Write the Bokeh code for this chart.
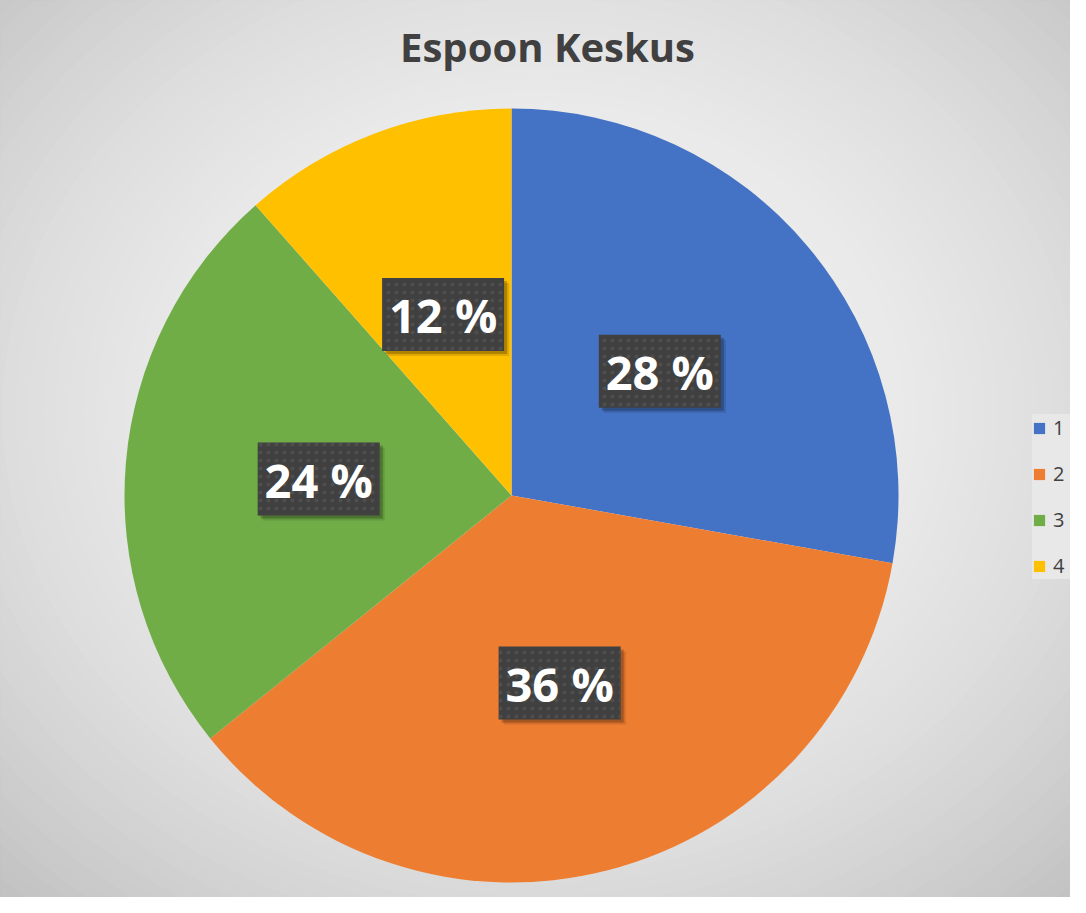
import math
from bokeh.plotting import figure
from bokeh.models import ColumnDataSource, Range1d, Legend, LegendItem
from bokeh.core.properties import value
from bokeh.embed import file_html
from bokeh.resources import INLINE

# ---- data ----
title_text = "Espoon Keskus"
categories = ["1", "2", "3", "4"]
shares = [27.8, 36.4, 24.3, 11.5]          # percent of total
labels = ["28 %", "36 %", "24 %", "12 %"]
colors = ["#4472C4", "#ED7D31", "#70AD47", "#FFC000"]

# ---- layout (px) ----
W, H = 1070, 897
CX, CY, R = 511, 402, 387

p = figure(width=W, height=H, output_backend="svg", toolbar_location=None,
           x_range=Range1d(0, W), y_range=Range1d(0, H),
           x_axis_type=None, y_axis_type=None, min_border=0)
p.grid.visible = False
p.outline_line_color = "#c4c4c4"
p.background_fill_color = "#c8c8c8"
p.border_fill_color = "white"

# radial background gradient built from concentric ellipses
gx, gy, grx, gry = 540, 485, 538, 460
steps = 64
ex, ey, ew, eh, ec = [], [], [], [], []
for k in range(steps, 0, -1):
    r = 1.6 * k / steps
    v = int(max(188, min(245, 245 - 24 * r * r)))
    ex.append(gx); ey.append(gy)
    ew.append(2 * grx * r); eh.append(2 * gry * r)
    ec.append("#%02x%02x%02x" % (v, v, v))
p.ellipse(x=ex, y=ey, width=ew, height=eh, fill_color=ec, line_color=None)

# pie wedges (clockwise from 12 o'clock)
total = sum(shares)
starts, ends, mids = [], [], []
acc = 0.0
for s in shares:
    a0 = math.pi / 2 - 2 * math.pi * acc / total
    acc += s
    a1 = math.pi / 2 - 2 * math.pi * acc / total
    starts.append(a0); ends.append(a1); mids.append((a0 + a1) / 2)

src = ColumnDataSource(dict(x=[CX] * 4, y=[CY] * 4, start=starts, end=ends,
                            color=colors, cat=categories))
wr = p.wedge(x="x", y="y", radius=R, start_angle="start", end_angle="end",
             direction="clock", fill_color="color", line_color=None, source=src)

# data labels in dark boxes
lr = 0.5 * R
lx = [CX + lr * math.cos(m) for m in mids]
ly = [CY + lr * math.sin(m) for m in mids]
bw, bh = 122, 73
p.rect(x=[x + 5 for x in lx], y=[y - 5 for y in ly], width=bw, height=bh,
       fill_color="black", fill_alpha=0.12, line_color=None)
p.rect(x=[x + 3 for x in lx], y=[y - 3 for y in ly], width=bw, height=bh,
       fill_color="black", fill_alpha=0.22, line_color=None)
p.rect(x=lx, y=ly, width=bw, height=bh, fill_color="#404040", line_color=None,
       hatch_pattern="dot", hatch_color="#4e4e4e", hatch_scale=8, hatch_weight=1)
p.text(x=lx, y=[y - 1 for y in ly], text=labels, text_color="white",
       text_font=value("Open Sans"), text_font_style="bold",
       text_font_size="47px", text_align="center", text_baseline="alphabetic")

# title
p.text(x=[547], y=[851], text=[title_text], text_color="#404040",
       text_font=value("Open Sans"), text_font_style="bold",
       text_font_size="40px", text_align="center", text_baseline="alphabetic")

# legend
items = [LegendItem(label=c, renderers=[wr], index=i) for i, c in enumerate(categories)]
legend = Legend(items=items, location=(1032, 318), orientation="vertical",
                glyph_width=14, glyph_height=14, label_standoff=7,
                label_height=14, spacing=19, padding=10, margin=0,
                label_text_font="Open Sans", label_text_font_size="20px",
                label_text_color="#404040",
                background_fill_color="#e8e8e8", background_fill_alpha=1.0,
                border_line_color=None)
p.add_layout(legend, "center")

open("out.html", "w").write(file_html(p, INLINE))
